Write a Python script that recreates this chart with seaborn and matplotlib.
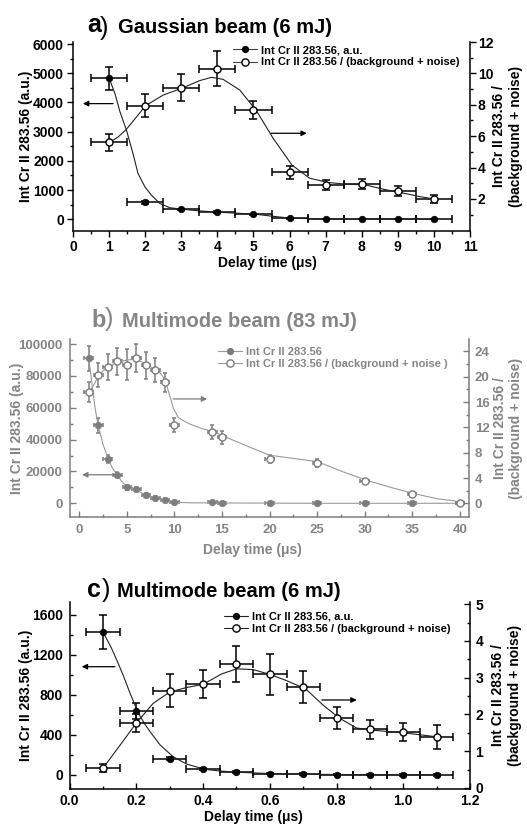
import matplotlib
matplotlib.use("Agg")
import matplotlib.pyplot as plt
from matplotlib.lines import Line2D
from matplotlib.ticker import MultipleLocator, FixedLocator
import seaborn as sns

# ---------------- data ----------------
# a) Gaussian beam (6 mJ)
t_a = [1, 2, 3, 4, 5, 6, 7, 8, 9, 10]
int_a = [4830, 580, 340, 240, 165, 35, 12, 10, 8, 6]
int_a_err = [390, 40, 30, 30, 30, 15, 10, 10, 10, 10]
snr_a = [5.6, 7.95, 9.1, 10.3, 7.65, 3.7, 2.9, 2.95, 2.5, 2.0]
snr_a_err = [0.53, 0.71, 0.85, 1.1, 0.58, 0.42, 0.34, 0.32, 0.3, 0.24]
fit_int_a_t = [1.0, 1.16, 1.3, 1.48, 1.66, 1.8, 1.99, 2.17, 2.4, 2.68, 3.05, 3.5,
               4.07, 4.6, 5.08, 5.6, 6.07, 7, 8, 9, 10]
fit_int_a = [4830, 4315, 3685, 3058, 2260, 1575, 1116, 832, 548, 397, 342, 290,
             240, 205, 170, 95, 34, 15, 10, 8, 5]
fit_snr_a_t = [1.0, 1.25, 1.48, 1.75, 2.01, 2.5, 3.05, 3.51, 3.84, 4.16, 4.62, 5.08,
               5.55, 6.07, 6.56, 7.07, 7.58, 8.1, 8.6, 9.1, 9.61, 10.0]
fit_snr_a = [5.59, 5.95, 6.44, 7.2, 7.94, 8.62, 9.09, 9.54, 9.75, 9.62, 8.94, 7.63,
             5.85, 4.15, 3.32, 3.05, 2.94, 2.9, 2.62, 2.4, 2.15, 2.0]

# b) Multimode beam (83 mJ)
t_b = [1, 2, 3, 4, 5, 6, 7, 8, 9, 10, 14, 15, 20, 25, 30, 35, 40]
int_b = [91000, 49000, 28000, 18000, 10000, 9000, 5200, 3300, 2300, 500, 500, 400,
         300, 200, 200, 200, 200]
int_b_err = [7600, 4600, 2500, 1800, 1500, 1500, 1200, 1000, 800, 500, 500, 500,
             500, 500, 500, 500, 500]
snr_b = [17.6, 20.2, 21.5, 22.4, 21.9, 22.9, 21.8, 21.1, 19.1, 12.3, 11.2, 10.4,
         7.0, 6.4, 3.6, 1.5, 0.0]
snr_b_err = [1.6, 1.9, 2.1, 2.1, 2.5, 2.2, 2.1, 1.9, 1.5, 1.1, 1.1, 1.0,
             0.6, 0.6, 0.3, 0.3, 0.3]
fit_int_b_t = [1.0, 1.2, 1.4, 1.6, 1.8, 2.0, 2.5, 3.0, 3.5, 4.0, 4.5, 5, 6, 7, 8, 9,
               10, 12, 15, 20, 25, 30, 35, 40]
fit_int_b = [91000, 82000, 72000, 63000, 55000, 49000, 37000, 28500, 22000, 17800,
             13500, 10500, 8300, 5200, 3300, 2000, 600, 300, 200, 100, 0, 0, 0, 0]
fit_snr_b_t = [1.05, 1.5, 2.05, 2.5, 3.0, 4.0, 5.0, 5.9, 6.9, 7.9, 8.5, 8.85, 9.2,
               9.55, 9.9, 10.4, 11.0, 11.5, 12.9, 14.2, 15.2, 17.4, 20.0, 22.5, 25,
               27.7, 30.3, 32.8, 35.3, 37.7, 39.5]
fit_snr_b = [17.6, 18.6, 20.2, 20.9, 21.5, 22.3, 22.6, 22.8, 22.1, 21.2, 20.6, 19.9,
             18.6, 16.8, 15.0, 13.6, 13.0, 12.6, 11.8, 11.3, 10.6, 9.2, 7.6, 7.1, 6.6,
             5.0, 3.6, 2.5, 1.5, 0.7, 0.4]

# c) Multimode beam (6 mJ)
t_c = [0.1, 0.2, 0.3, 0.4, 0.5, 0.6, 0.7, 0.8, 0.9, 1.0, 1.1]
int_c = [1430, 640, 165, 57, 30, 14, 8, 5, 4, 3, 2]
int_c_err = [170, 80, 15, 10, 8, 8, 8, 8, 8, 8, 8]
snr_c = [0.54, 1.77, 2.65, 2.82, 3.37, 3.09, 2.75, 1.89, 1.59, 1.52, 1.39]
snr_c_err = [0.11, 0.24, 0.44, 0.38, 0.49, 0.55, 0.44, 0.3, 0.25, 0.24, 0.33]
fit_int_c_t = [0.1, 0.125, 0.141, 0.16, 0.181, 0.206, 0.225, 0.241, 0.271, 0.31,
               0.35, 0.405, 0.45, 0.5, 0.6, 0.7, 0.8, 0.9, 1.0, 1.1]
fit_int_c = [1430, 1270, 1150, 1000, 817, 617, 510, 433, 300, 183,
             110, 57, 40, 28, 14, 8, 5, 4, 3, 2]
fit_snr_c_t = [0.1, 0.15, 0.2, 0.25, 0.3, 0.35, 0.4, 0.455, 0.5, 0.55, 0.6, 0.65,
               0.708, 0.76, 0.81, 0.86, 0.91, 1.01, 1.11]
fit_snr_c = [0.54, 1.15, 1.77, 2.30, 2.61, 2.73, 2.82, 3.1, 3.24, 3.22, 3.09, 2.92,
             2.69, 2.25, 1.89, 1.63, 1.57, 1.49, 1.38]

LEFT_LABEL = "Int Cr II 283.56 (a.u.)"
RIGHT_LABEL = "Int Cr II 283.56 /\n(background + noise)"
X_LABEL = "Delay time (\u03bcs)"

# ---------------- style ----------------
sns.set_theme(style="ticks")
plt.rcParams["font.family"] = ["Liberation Sans", "DejaVu Sans"]
plt.rcParams["font.weight"] = "bold"
plt.rcParams["axes.labelweight"] = "bold"

W, H = 527, 825
fig = plt.figure(figsize=(W / 100, H / 100), dpi=100)


def px_axes(l, t, r, b):
    return fig.add_axes([l / W, 1 - b / H, (r - l) / W, (b - t) / H])


def fig_text(x, y, s, **kw):
    fig.text(x / W, 1 - y / H, s, va="baseline", ha="left", **kw)


def draw_panel(ax, t, inten, inten_err, snr, snr_err, xerr,
               fit1_t, fit1, fit2_t, fit2, color, curve_color, text_color,
               cap, tick_dir, tick_fs):
    ax2 = ax.twinx()
    # intensity (left axis)
    ax.errorbar(t, inten, yerr=inten_err, xerr=xerr, fmt="none", ecolor=color,
                elinewidth=1.1, capsize=cap, capthick=1.1, zorder=2)
    sns.lineplot(x=fit1_t, y=fit1, ax=ax, color=curve_color, lw=0.8,
                 sort=False, estimator=None, zorder=3)
    sns.scatterplot(x=t, y=inten, ax=ax, color=color, edgecolor=color, s=22,
                    linewidth=0.5, zorder=4)
    # signal / (background + noise) (right axis)
    ax2.errorbar(t, snr, yerr=snr_err, xerr=xerr, fmt="none", ecolor=color,
                 elinewidth=1.1, capsize=cap, capthick=1.1, zorder=2)
    sns.lineplot(x=fit2_t, y=fit2, ax=ax2, color=curve_color, lw=0.8,
                 sort=False, estimator=None, zorder=3)
    sns.scatterplot(x=t, y=snr, ax=ax2, color="white", edgecolor=color, s=26,
                    linewidth=1.0, zorder=4)

    for a in (ax, ax2):
        a.spines["top"].set_visible(False)
        for s in a.spines.values():
            s.set_color(color)
            s.set_linewidth(1.1)
        a.set_xlabel("")
        a.set_ylabel("")
    ax.spines["right"].set_visible(False)
    ax2.spines["left"].set_visible(False)
    ax2.spines["bottom"].set_visible(False)

    ax.xaxis.set_ticks_position("bottom")
    ax.yaxis.set_ticks_position("left")
    for a in (ax, ax2):
        a.tick_params(axis="both", which="major", direction=tick_dir, length=4.5,
                      width=1.0, color=color, labelcolor=text_color,
                      labelsize=tick_fs)
        a.tick_params(axis="both", which="minor", direction=tick_dir, length=2.5,
                      width=1.0, color=color)
    for lab in ax.get_xticklabels() + ax.get_yticklabels() + ax2.get_yticklabels():
        lab.set_fontweight("bold")
    return ax2


def set_labels(ax, ax2, lx, rx, xl_x, xl_y, text_color, lfs, xfs):
    ax.set_ylabel(LEFT_LABEL, fontsize=lfs, fontweight="bold", color=text_color)
    ax.yaxis.set_label_coords(lx, 0.5)
    ax.yaxis.label.set_verticalalignment("center")
    ax2.set_ylabel(RIGHT_LABEL, fontsize=lfs, fontweight="bold", color=text_color,
                   rotation=90, linespacing=1.25)
    ax2.yaxis.set_label_coords(rx, 0.5)
    ax2.yaxis.label.set_verticalalignment("center")
    ax.set_xlabel(X_LABEL, fontsize=xfs, fontweight="bold", color=text_color)
    ax.xaxis.set_label_coords(xl_x, xl_y)
    ax.xaxis.label.set_verticalalignment("center")


def add_legend(ax2, labels, color, curve_color, text_color, anchor):
    handles = [
        Line2D([], [], color=curve_color, lw=0.8, marker="o", ms=4.2,
               mfc=color, mec=color),
        Line2D([], [], color=curve_color, lw=0.8, marker="o", ms=5.2,
               mfc="white", mec=color, mew=1.0),
    ]
    leg = ax2.legend(handles, labels, loc="upper left", bbox_to_anchor=anchor,
                     frameon=False, fontsize=8, handlelength=2.2,
                     handletextpad=0.35, labelspacing=0.2, borderpad=0,
                     borderaxespad=0)
    for txt in leg.get_texts():
        txt.set_color(text_color)
        txt.set_fontweight("bold")


def arrow(ax, start, end, color):
    ax.annotate("", xy=end, xytext=start, xycoords="axes fraction",
                textcoords="axes fraction",
                arrowprops=dict(arrowstyle="-|>", color=color, lw=0.9,
                                mutation_scale=8, shrinkA=0, shrinkB=0))


BLACK = "black"
GRAY = "#7d7d7d"
GRAY_TXT = "#858585"
GRAY_CURVE = "#9a9a9a"

# ---------------- panel a ----------------
axa = px_axes(73, 42, 470, 231)
axa2 = draw_panel(axa, t_a, int_a, int_a_err, snr_a, snr_a_err, 0.5,
                  fit_int_a_t, fit_int_a, fit_snr_a_t, fit_snr_a,
                  BLACK, "#222222", BLACK, 2.6, "out", 10)
axa.set_xlim(0, 11)
axa.set_ylim(-400, 6070)
axa2.set_ylim(-0.04, 12.0)
axa.xaxis.set_major_locator(MultipleLocator(1))
axa.xaxis.set_minor_locator(MultipleLocator(0.5))
axa.yaxis.set_major_locator(MultipleLocator(1000))
axa.yaxis.set_minor_locator(MultipleLocator(500))
axa2.yaxis.set_major_locator(FixedLocator([2, 4, 6, 8, 10, 12]))
axa2.yaxis.set_minor_locator(FixedLocator([1, 3, 5, 7, 9, 11]))
axa.tick_params(axis="both", which="major", pad=2)
axa2.tick_params(axis="y", which="major", pad=1)
set_labels(axa, axa2, -0.118, 1.095, 0.491, -0.169, BLACK, 10, 10)
add_legend(axa2, ["Int Cr II 283.56, a.u.", "Int Cr II 283.56 / (background + noise)"],
           BLACK, "#444444", BLACK, (0.403, 0.983))
arrow(axa, (0.101, 0.674), (0.025, 0.674), BLACK)
arrow(axa, (0.499, 0.517), (0.589, 0.517), BLACK)
fig_text(87, 31.5, "a", fontsize=18, fontweight="bold", color=BLACK)
fig_text(100, 34.5, ")", fontsize=18, fontweight="normal", color=BLACK)
fig_text(118, 33.3, "Gaussian beam (6 mJ)", fontsize=14.5, fontweight="bold",
         color=BLACK)

# ---------------- panel b ----------------
axb = px_axes(69.7, 339.3, 469.3, 517.3)
axb2 = draw_panel(axb, t_b, int_b, int_b_err, snr_b, snr_b_err, 0.45,
                  fit_int_b_t, fit_int_b, fit_snr_b_t, fit_snr_b,
                  GRAY, GRAY_CURVE, GRAY_TXT, 1.6, "in", 9.5)
axb.set_xlim(-1, 41)
axb.set_ylim(-8800, 103000)
axb2.set_ylim(-2.2, 25.9)
axb.xaxis.set_major_locator(MultipleLocator(5))
axb.xaxis.set_minor_locator(MultipleLocator(2.5))
axb.yaxis.set_major_locator(FixedLocator([0, 20000, 40000, 60000, 80000, 100000]))
axb.yaxis.set_minor_locator(FixedLocator([10000, 30000, 50000, 70000, 90000]))
axb2.yaxis.set_major_locator(FixedLocator([0, 4, 8, 12, 16, 20, 24]))
axb2.yaxis.set_minor_locator(FixedLocator([2, 6, 10, 14, 18, 22]))
axb.tick_params(axis="both", which="major", pad=5)
axb2.tick_params(axis="y", which="major", pad=4)
set_labels(axb, axb2, -0.131, 1.097, 0.457, -0.184, GRAY_TXT, 10, 10)
add_legend(axb2, ["Int Cr II 283.56", "Int Cr II 283.56 / (background + noise )"],
           GRAY, GRAY_CURVE, GRAY_TXT, (0.371, 0.958))
arrow(axb, (0.121, 0.239), (0.031, 0.239), GRAY)
arrow(axb, (0.259, 0.665), (0.344, 0.665), GRAY)
fig_text(91.7, 326.7, "b", fontsize=17, fontweight="bold", color=GRAY_TXT)
fig_text(105, 326.4, ")", fontsize=18, fontweight="normal", color=GRAY_TXT)
fig_text(122, 327, "Multimode beam (83 mJ)", fontsize=14.5, fontweight="bold",
         color=GRAY_TXT)

# ---------------- panel c ----------------
axc = px_axes(69.7, 602, 470, 789)
axc2 = draw_panel(axc, t_c, int_c, int_c_err, snr_c, snr_c_err, 0.05,
                  fit_int_c_t, fit_int_c, fit_snr_c_t, fit_snr_c,
                  BLACK, "#222222", BLACK, 2.6, "in", 10)
axc.set_xlim(0, 1.2)
axc.set_ylim(-140, 1730)
axc2.set_ylim(-0.03, 5.06)
axc.xaxis.set_major_locator(MultipleLocator(0.2))
axc.xaxis.set_minor_locator(MultipleLocator(0.1))
axc.yaxis.set_major_locator(FixedLocator([0, 400, 800, 1200, 1600]))
axc.yaxis.set_minor_locator(FixedLocator([200, 600, 1000, 1400]))
axc2.yaxis.set_major_locator(FixedLocator([0, 1, 2, 3, 4, 5]))
axc2.yaxis.set_minor_locator(FixedLocator([0.5, 1.5, 2.5, 3.5, 4.5]))
axc.tick_params(axis="y", which="major", pad=5)
axc.tick_params(axis="x", which="major", pad=3.5)
axc2.tick_params(axis="y", which="major", pad=4)
set_labels(axc, axc2, -0.109, 1.091, 0.46, -0.15, BLACK, 10, 10)
add_legend(axc2, ["Int Cr II 283.56, a.u.", "Int Cr II 283.56 / (background + noise)"],
           BLACK, "#222222", BLACK, (0.385, 0.947))
arrow(axc, (0.113, 0.654), (0.03, 0.654), BLACK)
arrow(axc, (0.63, 0.476), (0.717, 0.476), BLACK)
fig_text(87, 596.7, "c", fontsize=18, fontweight="bold", color=BLACK)
fig_text(101.7, 596.5, ")", fontsize=18, fontweight="normal", color=BLACK)
fig_text(117, 596.7, "Multimode beam (6 mJ)", fontsize=14.5, fontweight="bold",
         color=BLACK)

fig.savefig("out.png", dpi=100)
